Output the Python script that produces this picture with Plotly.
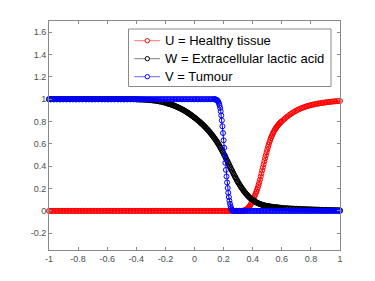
import numpy as np
import plotly.graph_objects as go

# ---------------- data ----------------
# U = Healthy tissue (red)
U_FLAT_START, U_FLAT_STEP = -1.00, 0.01
U_FLAT = [0.0] * 134                     # x = -1.00 .. 0.33
U_RISE_START, U_RISE_STEP = 0.335, 0.005
U_RISE = [0.002, 0.003, 0.005, 0.008, 0.012, 0.016, 0.021, 0.028, 0.036, 0.045,
          0.055, 0.067, 0.080, 0.093, 0.107, 0.122, 0.138, 0.155, 0.172, 0.190,
          0.210, 0.232, 0.255, 0.280, 0.307, 0.335, 0.363, 0.390, 0.418, 0.445,
          0.472, 0.498, 0.524, 0.548, 0.572, 0.594, 0.615, 0.634, 0.652, 0.668,
          0.683, 0.697, 0.710, 0.722, 0.733, 0.743, 0.752, 0.761, 0.769, 0.777,
          0.784, 0.791, 0.797, 0.803]     # x = 0.335 .. 0.600
U_TAIL_START, U_TAIL_STEP = 0.61, 0.01
U_TAIL = [0.814, 0.825, 0.836, 0.847, 0.857, 0.866, 0.875, 0.883, 0.891, 0.898,
          0.905, 0.911, 0.917, 0.922, 0.927, 0.932, 0.936, 0.940, 0.944, 0.947,
          0.950, 0.953, 0.956, 0.958, 0.961, 0.963, 0.965, 0.967, 0.969, 0.971,
          0.973, 0.974, 0.976, 0.977, 0.979, 0.980, 0.981, 0.982, 0.983, 0.984]  # 0.61 .. 1.00

# W = Extracellular lactic acid (black)
W_FLAT_START, W_FLAT_STEP = -1.00, 0.01
W_FLAT = [1.0] * 60                      # x = -1.00 .. -0.41
W_EDGE_START, W_EDGE_STEP = -0.40, 0.01
W_EDGE = [0.998, 0.998, 0.997, 0.997, 0.996, 0.996, 0.995, 0.994, 0.993, 0.992,
          0.991, 0.989, 0.988, 0.986, 0.984, 0.982, 0.980, 0.977, 0.974, 0.971]  # -0.40 .. -0.21
W_FALL_START, W_FALL_STEP = -0.20, 0.005
W_FALL = [0.968, 0.966, 0.964, 0.962, 0.960, 0.958, 0.956, 0.954, 0.952, 0.950,
          0.947, 0.945, 0.942, 0.940, 0.937, 0.934, 0.931, 0.928, 0.925, 0.922,
          0.919, 0.916, 0.912, 0.909, 0.905, 0.902, 0.898, 0.894, 0.890, 0.886,
          0.882, 0.878, 0.873, 0.869, 0.864, 0.860, 0.855, 0.850, 0.845, 0.840,
          0.835, 0.830, 0.825, 0.820, 0.814, 0.809, 0.803, 0.798, 0.792, 0.786,
          0.780, 0.774, 0.768, 0.762, 0.755, 0.748, 0.741, 0.734, 0.727, 0.720,
          0.712, 0.705, 0.697, 0.689, 0.681, 0.673, 0.664, 0.655, 0.646, 0.637,
          0.627, 0.617, 0.607, 0.596, 0.585, 0.574, 0.562, 0.550, 0.538, 0.526,
          0.513, 0.500, 0.487, 0.474, 0.461, 0.448, 0.434, 0.421, 0.407, 0.394,
          0.380, 0.367, 0.354, 0.341, 0.328, 0.315, 0.303, 0.291, 0.279, 0.267,
          0.256, 0.245, 0.234, 0.224, 0.214, 0.204, 0.195, 0.186, 0.177, 0.168,
          0.160, 0.152, 0.145, 0.138, 0.131, 0.124, 0.118, 0.112, 0.107, 0.102,
          0.097, 0.092, 0.088, 0.084, 0.080, 0.076, 0.073, 0.070, 0.067, 0.064,
          0.062, 0.059, 0.057, 0.055, 0.053, 0.051, 0.049, 0.047, 0.046, 0.044,
          0.043, 0.042, 0.041, 0.040, 0.039, 0.038, 0.037, 0.036, 0.035, 0.034,
          0.033, 0.032, 0.032, 0.031, 0.031, 0.030, 0.029, 0.028, 0.028, 0.027,
          0.027]                           # x = -0.200 .. 0.600
W_TAIL_START, W_TAIL_STEP = 0.61, 0.01
W_TAIL = [0.026, 0.025, 0.024, 0.023, 0.022, 0.021, 0.021, 0.020, 0.019, 0.019,
          0.018, 0.017, 0.017, 0.016, 0.016, 0.015, 0.015, 0.014, 0.014, 0.013,
          0.013, 0.012, 0.012, 0.011, 0.011, 0.010, 0.010, 0.009, 0.009, 0.009,
          0.008, 0.008, 0.008, 0.007, 0.007, 0.007, 0.006, 0.006, 0.006, 0.005]  # 0.61 .. 1.00

# V = Tumour (blue)
V_FLAT_START, V_FLAT_STEP = -1.00, 0.01
V_FLAT = [1.0] * 114                     # x = -1.00 .. 0.13
V_DROP_START, V_DROP_STEP = 0.136, 0.004
V_DROP = [1.0, 0.999, 0.998, 0.996, 0.993, 0.990, 0.985, 0.976, 0.963, 0.945,
          0.922, 0.892, 0.855, 0.810, 0.757, 0.697, 0.632, 0.565, 0.497, 0.430,
          0.367, 0.308, 0.254, 0.205, 0.162, 0.124, 0.091, 0.063, 0.040, 0.023,
          0.011, 0.004, 0.001, 0.0]       # x = 0.136 .. 0.268
V_ZERO_START, V_ZERO_STEP = 0.27, 0.01
V_ZERO = [0.0] * 74                      # x = 0.27 .. 1.00

X_TICKS = [-1, -0.8, -0.6, -0.4, -0.2, 0, 0.2, 0.4, 0.6, 0.8, 1]
X_TICK_LABELS = ["-1", "-0.8", "-0.6", "-0.4", "-0.2", "0", "0.2", "0.4", "0.6", "0.8", "1"]
Y_TICKS = [-0.2, 0, 0.2, 0.4, 0.6, 0.8, 1, 1.2, 1.4, 1.6]
Y_TICK_LABELS = ["-0.2", "0", "0.2", "0.4", "0.6", "0.8", "1", "1.2", "1.4", "1.6"]

NAMES = ["U = Healthy tissue", "W = Extracellular lactic acid", "V = Tumour"]
COLORS = ["#ff0000", "#000000", "#0000ff"]
SAMPLE_LINE_COLORS = ["rgba(255,0,0,0.55)", "rgba(0,0,0,0.5)", "rgba(0,0,255,0.6)"]


def build(segments):
    xs, ys = [], []
    for start, step, vals in segments:
        xs.extend(np.round(start + step * np.arange(len(vals)), 4).tolist())
        ys.extend(vals)
    return xs, ys


series = [
    build([(U_FLAT_START, U_FLAT_STEP, U_FLAT), (U_RISE_START, U_RISE_STEP, U_RISE),
           (U_TAIL_START, U_TAIL_STEP, U_TAIL)]),
    build([(W_FLAT_START, W_FLAT_STEP, W_FLAT), (W_EDGE_START, W_EDGE_STEP, W_EDGE),
           (W_FALL_START, W_FALL_STEP, W_FALL), (W_TAIL_START, W_TAIL_STEP, W_TAIL)]),
    build([(V_FLAT_START, V_FLAT_STEP, V_FLAT), (V_DROP_START, V_DROP_STEP, V_DROP),
           (V_ZERO_START, V_ZERO_STEP, V_ZERO)]),
]

fig = go.Figure()
for (xs, ys), name, col in zip(series, NAMES, COLORS):
    fig.add_trace(go.Scatter(
        x=xs, y=ys, name=name, mode="lines+markers",
        line=dict(color=col, width=1),
        marker=dict(symbol="circle-open", size=5, color=col, line=dict(width=1, color=col)),
        cliponaxis=False, showlegend=False,
    ))

# ---------------- layout geometry ----------------
W_FIG, H_FIG = 375, 281
ML, MR, MT, MB = 41, 43, 13, 39
PW, PH = W_FIG - ML - MR, H_FIG - MT - MB


def px(fx):   # figure pixel x -> paper
    return (fx - ML) / PW


def py(fy):   # figure pixel y -> paper
    return (H_FIG - MB - fy) / PH


# MATLAB-style legend box (drawn as shapes + text)
LEG_L, LEG_R, LEG_T, LEG_B = 120.5, 323.0, 21.0, 78.5
ROW_Y = [32.7, 50.7, 68.7]
SAMPLE_X0, SAMPLE_X1, SAMPLE_C, TEXT_X = 126.3, 152.0, 139.3, 154.5
R_MARK = 2.2

shapes = [dict(type="rect", xref="paper", yref="paper",
               x0=px(LEG_L), x1=px(LEG_R), y0=py(LEG_B), y1=py(LEG_T),
               fillcolor="white", line=dict(color="#8a8a8a", width=1), layer="above")]
annotations = []
for ry, name, col, lcol in zip(ROW_Y, NAMES, COLORS, SAMPLE_LINE_COLORS):
    shapes.append(dict(type="line", xref="paper", yref="paper",
                       x0=px(SAMPLE_X0), x1=px(SAMPLE_X1), y0=py(ry), y1=py(ry),
                       line=dict(color=lcol, width=1), layer="above"))
    shapes.append(dict(type="circle", xref="paper", yref="paper",
                       x0=px(SAMPLE_C - R_MARK), x1=px(SAMPLE_C + R_MARK),
                       y0=py(ry + R_MARK), y1=py(ry - R_MARK),
                       fillcolor="white", line=dict(color=col, width=1), layer="above"))
    annotations.append(dict(xref="paper", yref="paper", x=px(TEXT_X), y=py(ry),
                            xanchor="left", yanchor="middle", showarrow=False, text=name,
                            font=dict(family="Liberation Sans, Arial, sans-serif", size=13,
                                      color="#000000")))

axis_common = dict(
    showgrid=False, zeroline=False, showline=True, linecolor="#8a8a8a", linewidth=1,
    mirror="ticks", ticks="inside", ticklen=3, tickcolor="#8a8a8a", tickwidth=1,
    tickfont=dict(family="Liberation Sans, Arial, sans-serif", size=9, color="#4d4d4d"),
)

fig.update_layout(
    width=W_FIG, height=H_FIG,
    margin=dict(l=ML, r=MR, t=MT, b=MB),
    paper_bgcolor="white", plot_bgcolor="white",
    showlegend=False,
    shapes=shapes, annotations=annotations,
    xaxis=dict(range=[-1, 1], tickvals=X_TICKS, ticktext=X_TICK_LABELS, **axis_common),
    yaxis=dict(range=[-0.35, 1.7], tickvals=Y_TICKS, ticktext=Y_TICK_LABELS, **axis_common),
)

fig.write_html("out.html")
